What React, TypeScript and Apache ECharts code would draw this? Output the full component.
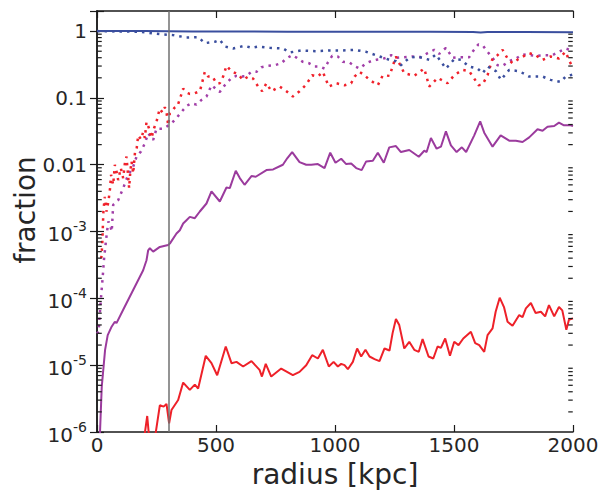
import React, { useEffect, useRef } from "react";
import * as echarts from "echarts";

// x in kpc; y values stored as log10(fraction)
const blueSolidX = [0, 200, 400, 600, 800, 1000, 1200, 1400, 1580, 1612, 1640, 1800, 2000];
const blueSolidLog = [0, 0, -0.004, -0.006, -0.008, -0.008, -0.01, -0.011, -0.012, -0.02, -0.012, -0.014, -0.016];

const blueDotX = [0, 180, 264, 320, 376, 425, 453, 495, 516, 537, 572, 620, 649, 677, 726, 782, 809, 858, 921, 977, 1033, 1082, 1131, 1180, 1228, 1256, 1277, 1312, 1347, 1396, 1424, 1466, 1501, 1529, 1564, 1599, 1620, 1641, 1676, 1697, 1732, 1774, 1816, 1872, 1906, 1948, 1969, 2000];
const blueDotLog = [0, -0.01, -0.045, -0.06, -0.095, -0.09, -0.18, -0.16, -0.13, -0.23, -0.26, -0.22, -0.25, -0.23, -0.25, -0.26, -0.32, -0.29, -0.3, -0.29, -0.29, -0.28, -0.31, -0.37, -0.43, -0.45, -0.51, -0.4, -0.38, -0.43, -0.35, -0.56, -0.42, -0.43, -0.53, -0.56, -0.63, -0.53, -0.6, -0.73, -0.58, -0.6, -0.68, -0.68, -0.73, -0.76, -0.68, -0.65];

const redDotX = [18, 22, 27, 33, 40, 48, 55, 59, 68, 75, 82, 89, 100, 110, 118, 124, 135, 140, 145, 152, 160, 166, 173, 185, 194, 201, 208, 218, 229, 240, 250, 257, 264, 275, 285, 292, 299, 306, 313, 325, 337, 348, 362, 376, 390, 411, 432, 439, 453, 467, 485, 502, 516, 530, 544, 565, 593, 614, 635, 656, 677, 694, 712, 733, 768, 796, 823, 851, 879, 904, 928, 949, 974, 1005, 1040, 1068, 1082, 1103, 1124, 1145, 1180, 1201, 1229, 1256, 1291, 1333, 1375, 1396, 1431, 1473, 1501, 1536, 1564, 1585, 1603, 1620, 1641, 1662, 1683, 1704, 1725, 1746, 1774, 1816, 1843, 1872, 1906, 1941, 1969, 1985, 2000];
const redDotLog = [-3.4, -3.2, -2.68, -2.48, -2.7, -2.55, -2.35, -2.15, -2.3, -2.0, -2.1, -2.23, -2.05, -2.2, -1.95, -1.88, -2.35, -2.1, -1.95, -2.13, -1.8, -1.78, -1.56, -1.62, -1.51, -1.6, -1.36, -1.45, -1.6, -1.45, -1.36, -1.25, -1.16, -1.22, -1.14, -1.21, -1.41, -1.23, -1.21, -1.15, -1.13, -1.02, -0.86, -0.92, -0.94, -0.93, -0.9, -0.81, -0.61, -0.68, -0.68, -0.78, -0.78, -0.68, -0.52, -0.6, -0.65, -0.73, -0.68, -0.71, -0.83, -0.9, -0.78, -0.9, -0.83, -0.9, -0.98, -0.9, -0.8, -0.66, -0.68, -0.61, -0.83, -0.78, -0.81, -0.78, -0.68, -0.61, -0.66, -0.73, -0.81, -0.66, -0.67, -0.38, -0.63, -0.67, -0.56, -0.83, -0.7, -0.78, -0.66, -0.58, -0.6, -0.71, -0.81, -0.8, -0.66, -0.41, -0.36, -0.28, -0.41, -0.48, -0.41, -0.33, -0.36, -0.43, -0.38, -0.41, -0.31, -0.45, -0.55];

const purpleDotX = [0, 5, 8, 12, 17, 24, 29, 38, 42, 48, 55, 62, 68, 89, 110, 131, 150, 166, 185, 201, 215, 236, 250, 278, 306, 327, 355, 376, 397, 418, 439, 460, 481, 516, 537, 565, 586, 607, 628, 649, 670, 691, 719, 747, 775, 795, 820, 840, 865, 890, 914, 935, 956, 970, 988, 1012, 1033, 1061, 1085, 1103, 1131, 1152, 1173, 1194, 1215, 1236, 1256, 1291, 1326, 1361, 1389, 1417, 1438, 1466, 1494, 1522, 1564, 1578, 1602, 1620, 1641, 1662, 1683, 1704, 1732, 1760, 1788, 1816, 1843, 1878, 1913, 1941, 1969, 1985, 2000];
const purpleDotLog = [-4.5, -4.52, -4.43, -4.22, -3.98, -3.68, -3.43, -3.13, -3.0, -2.85, -2.9, -3.0, -2.6, -2.53, -2.35, -2.15, -2.05, -1.88, -1.8, -1.68, -1.53, -1.63, -1.46, -1.46, -1.4, -1.33, -1.21, -1.12, -1.08, -1.1, -1.03, -0.98, -0.81, -0.91, -0.81, -0.7, -0.67, -0.68, -0.67, -0.61, -0.61, -0.54, -0.52, -0.51, -0.48, -0.41, -0.36, -0.4, -0.46, -0.48, -0.53, -0.53, -0.56, -0.47, -0.37, -0.38, -0.46, -0.47, -0.53, -0.56, -0.48, -0.45, -0.43, -0.42, -0.4, -0.36, -0.4, -0.39, -0.38, -0.39, -0.33, -0.28, -0.34, -0.25, -0.4, -0.39, -0.39, -0.31, -0.2, -0.21, -0.31, -0.4, -0.51, -0.52, -0.45, -0.41, -0.35, -0.36, -0.37, -0.36, -0.36, -0.31, -0.26, -0.28, -0.25];

const purpleSolidX = [8, 13, 20, 34, 45, 62, 75, 82, 110, 152, 194, 208, 215, 222, 236, 264, 299, 306, 334, 348, 362, 376, 390, 411, 432, 460, 481, 516, 544, 558, 583, 600, 620, 649, 667, 712, 740, 781, 800, 820, 851, 879, 900, 928, 956, 980, 1002, 1026, 1047, 1068, 1089, 1112, 1131, 1159, 1180, 1205, 1228, 1256, 1277, 1312, 1352, 1375, 1385, 1403, 1427, 1445, 1466, 1487, 1511, 1533, 1551, 1585, 1610, 1627, 1662, 1696, 1732, 1760, 1788, 1816, 1851, 1872, 1893, 1921, 1941, 1962, 1990, 2000];
const purpleSolidLog = [-6.5, -5.97, -5.32, -4.77, -4.55, -4.42, -4.35, -4.37, -4.17, -3.875, -3.58, -3.43, -3.28, -3.25, -3.3, -3.23, -3.2, -3.18, -3.03, -2.98, -2.88, -2.83, -2.78, -2.8, -2.7, -2.58, -2.4, -2.55, -2.34, -2.35, -2.09, -2.2, -2.3, -2.17, -2.18, -2.08, -2.07, -2.0, -1.9, -1.81, -1.96, -2.0, -2.0, -1.99, -2.05, -1.82, -1.97, -1.91, -1.99, -1.98, -2.05, -2.08, -1.95, -1.94, -1.82, -1.97, -1.74, -1.72, -1.81, -1.78, -1.88, -1.79, -1.81, -1.6, -1.76, -1.73, -1.5, -1.71, -1.81, -1.74, -1.81, -1.56, -1.35, -1.52, -1.73, -1.56, -1.64, -1.64, -1.66, -1.59, -1.47, -1.49, -1.43, -1.42, -1.37, -1.41, -1.41, -1.42];

const redSolidX = [194, 211, 222, 243, 264, 280, 292, 303, 313, 341, 362, 390, 411, 425, 457, 481, 505, 541, 565, 586, 614, 649, 683, 693, 709, 732, 774, 823, 851, 879, 904, 928, 949, 974, 994, 1012, 1026, 1040, 1054, 1075, 1093, 1110, 1128, 1145, 1166, 1187, 1208, 1229, 1242, 1256, 1270, 1291, 1312, 1333, 1352, 1368, 1393, 1413, 1431, 1445, 1463, 1483, 1501, 1519, 1539, 1571, 1589, 1606, 1627, 1641, 1662, 1675, 1692, 1710, 1725, 1746, 1774, 1788, 1802, 1823, 1843, 1865, 1883, 1899, 1921, 1941, 1955, 1972, 1983, 2000];
const redSolidLog = [-6.2, -5.76, -6.2, -6.1, -5.6, -5.62, -5.58, -5.87, -5.67, -5.52, -5.26, -5.37, -5.29, -5.35, -4.86, -4.97, -5.15, -4.72, -4.97, -4.95, -5.02, -4.94, -5.07, -5.17, -4.98, -5.17, -5.05, -5.15, -5.1, -5.0, -4.85, -4.9, -4.77, -5.02, -4.95, -5.02, -4.98, -5.0, -5.06, -4.95, -4.75, -4.87, -4.77, -4.87, -4.91, -4.94, -4.75, -4.78, -4.52, -4.31, -4.4, -4.75, -4.65, -4.77, -4.8, -4.61, -4.87, -4.9, -4.72, -4.74, -4.6, -4.86, -4.65, -4.7, -4.6, -4.5, -4.67, -4.7, -4.8, -4.55, -4.45, -4.2, -3.99, -4.13, -4.35, -4.41, -4.25, -4.28, -4.15, -4.07, -4.22, -4.2, -4.27, -4.1, -4.27, -4.13, -4.18, -4.47, -4.32, -4.3];

const xMin = 0;
const xMax = 2000;
const xInterval = 500;
const yMin = 1e-6;
const yMax = 2;
const markerRadius = 300;
const minorMantissas = [2, 3, 4, 5, 6, 7, 8, 9];
const decades = [-6, -5, -4, -3, -2, -1];

const toData = (xs: number[], logs: number[]) => xs.map((x, i) => [x, Math.pow(10, logs[i])]);

const TEXT = "#262626";
const FRAME = "#1a1a1a";
const FONT = "DejaVu Sans";

export default function App() {
  const ref = useRef<HTMLDivElement>(null);
  useEffect(() => {
    if (!ref.current) return;
    const chart = echarts.init(ref.current, undefined, { renderer: "svg" });
    const minorVals: number[] = [];
    decades.forEach((e) => minorMantissas.forEach((m) => minorVals.push(m * Math.pow(10, e))));

    const yLabelFmt = (v: number) => {
      const lg = Math.log10(v);
      const e = Math.round(lg);
      if (Math.abs(lg - e) > 1e-6) return "";
      if (e === 0) return "1";
      if (e === -1) return "0.1";
      if (e === -2) return "0.01";
      return `{b|10}{s|${e}}`;
    };

    const axisLineStyle = { show: true, lineStyle: { color: FRAME, width: 1.5 } };
    const tickStyle = { show: true, inside: true, length: 7, lineStyle: { color: FRAME, width: 1.2 } };

    const line = (name: string, data: number[][], color: string, dotted: boolean, width: number, extra: any = {}) => ({
      type: "line",
      name,
      data,
      showSymbol: false,
      symbol: "none",
      smooth: false,
      lineStyle: { color, width, type: dotted ? [2.5, 5] : "solid", cap: "butt" },
      z: 3,
      ...extra,
    });

    const minorTickSeries = (xPos: number, offset: number) => ({
      type: "scatter",
      silent: true,
      clip: false,
      z: 10,
      symbol: "rect",
      symbolSize: [4.5, 1.2],
      symbolOffset: [offset, 0],
      itemStyle: { color: FRAME, opacity: 1 },
      data: minorVals.map((v) => [xPos, v]),
    });

    chart.setOption({
      animation: false,
      backgroundColor: "#ffffff",
      textStyle: { fontFamily: FONT },
      grid: { left: 97, right: 30, top: 11, bottom: 58 },
      xAxis: [
        {
          type: "value",
          position: "bottom",
          min: xMin,
          max: xMax,
          interval: xInterval,
          axisLine: axisLineStyle,
          axisTick: tickStyle,
          splitLine: { show: false },
          axisLabel: { color: TEXT, fontSize: 20, fontFamily: FONT, margin: 3, formatter: (v: number) => String(v) },
        },
        {
          type: "value",
          position: "top",
          min: xMin,
          max: xMax,
          interval: xInterval,
          axisLine: axisLineStyle,
          axisTick: tickStyle,
          splitLine: { show: false },
          axisLabel: { show: false },
        },
      ],
      yAxis: [
        {
          type: "log",
          logBase: 10,
          position: "left",
          min: yMin,
          max: yMax,
          axisLine: axisLineStyle,
          axisTick: tickStyle,
          splitLine: { show: false },
          axisLabel: {
            color: TEXT,
            fontSize: 20,
            fontFamily: FONT,
            margin: 10,
            formatter: yLabelFmt,
            rich: {
              b: { fontSize: 20, fontFamily: FONT, color: TEXT, verticalAlign: "bottom" },
              s: { fontSize: 14, fontFamily: FONT, color: TEXT, verticalAlign: "bottom", padding: [0, 0, 11, 0] },
            },
          },
        },
        {
          type: "log",
          logBase: 10,
          position: "right",
          min: yMin,
          max: yMax,
          axisLine: axisLineStyle,
          axisTick: tickStyle,
          splitLine: { show: false },
          axisLabel: { show: false },
        },
      ],
      graphic: [
        {
          type: "text",
          x: 335,
          y: 474,
          style: { text: "radius [kpc]", fontSize: 28, fontFamily: FONT, fill: TEXT, align: "center", verticalAlign: "middle" },
        },
        {
          type: "text",
          x: 25,
          y: 210,
          rotation: Math.PI / 2,
          style: { text: "fraction", fontSize: 28, fontFamily: FONT, fill: TEXT, align: "center", verticalAlign: "middle" },
        },
      ],
      series: [
        line("purple dotted", toData(purpleDotX, purpleDotLog), "#a23fa8", true, 2.5),
        line("red dotted", toData(redDotX, redDotLog), "#f0212b", true, 2.5),
        line("blue dotted", toData(blueDotX, blueDotLog), "#3a4e9e", true, 2.5),
        line("purple solid", toData(purpleSolidX, purpleSolidLog), "#9b3b9d", false, 2),
        line("red solid", toData(redSolidX, redSolidLog), "#ee2129", false, 2),
        line("blue solid", toData(blueSolidX, blueSolidLog), "#3a4e9e", false, 2, {
          markLine: {
            silent: true,
            symbol: ["none", "none"],
            label: { show: false },
            lineStyle: { color: "#707070", width: 1.5, type: "solid" },
            data: [{ xAxis: markerRadius }],
          },
        }),
        minorTickSeries(xMin, 2.5),
        minorTickSeries(xMax, -2.5),
      ],
    });
    return () => chart.dispose();
  }, []);
  return <div ref={ref} style={{ position: "absolute", left: 0, top: 0, width: 603, height: 490 }} />;
}
